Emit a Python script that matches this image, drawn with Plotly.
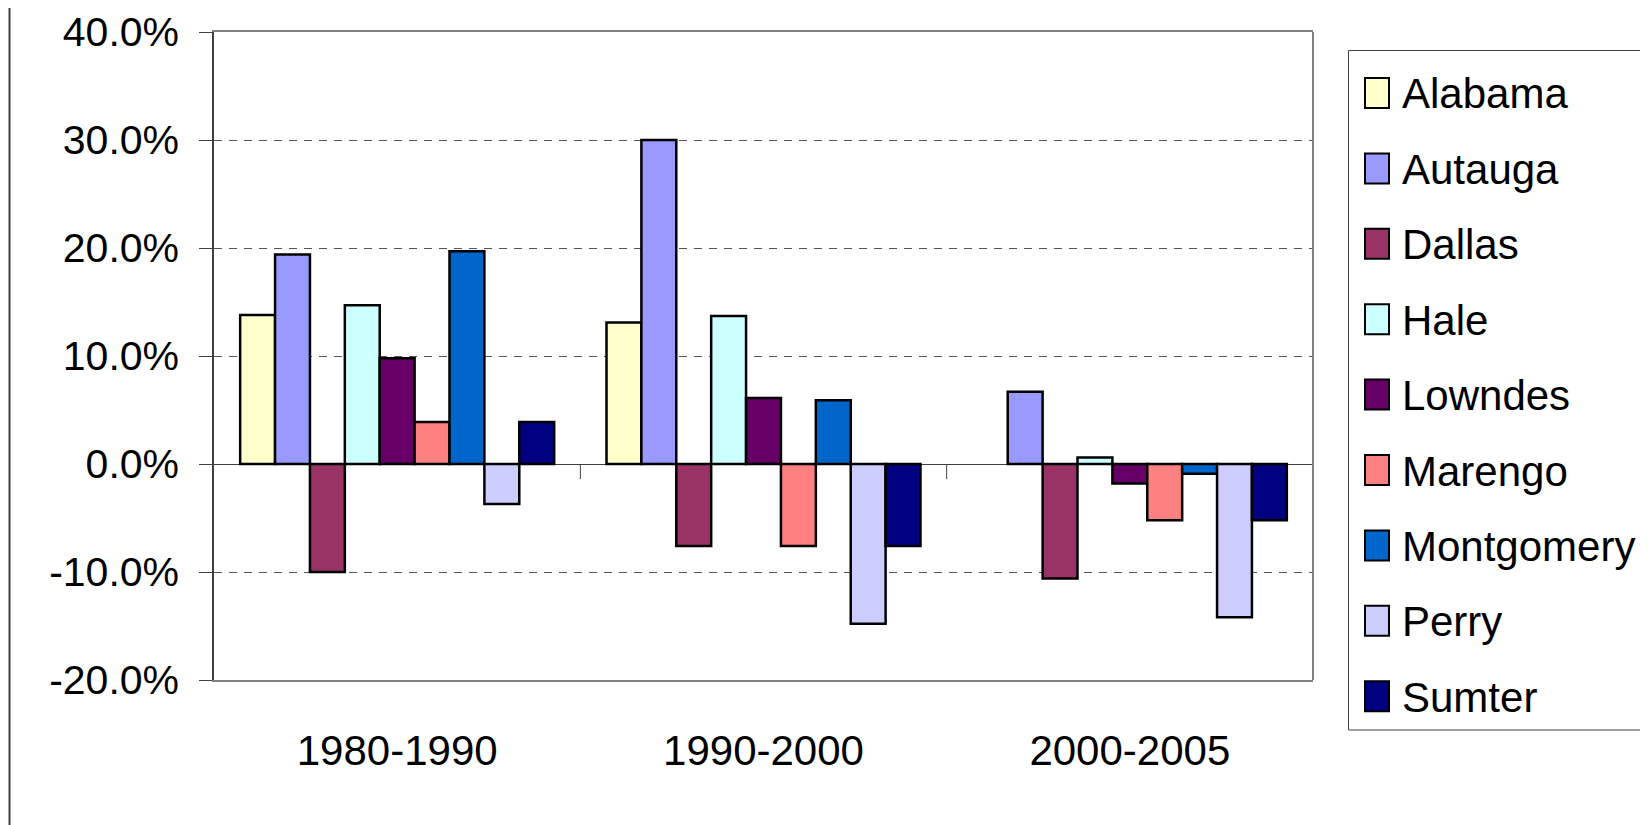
import plotly.graph_objects as go

periods = ["1980-1990", "1990-2000", "2000-2005"]
counties = ["Alabama", "Autauga", "Dallas", "Hale", "Lowndes",
            "Marengo", "Montgomery", "Perry", "Sumter"]
colors = ["#FFFFCC", "#9999FF", "#993366", "#CCFFFF", "#660066",
          "#FF8080", "#0066CC", "#CCCCFF", "#000080"]

alabama = [13.8, 13.1, None]
autauga = [19.4, 30.0, 6.7]
dallas = [-10.0, -7.6, -10.6]
hale = [14.7, 13.7, 0.6]
lowndes = [9.8, 6.1, -1.8]
marengo = [3.9, -7.6, -5.2]
montgomery = [19.7, 5.9, -0.9]
perry = [-3.7, -14.8, -14.2]
sumter = [3.9, -7.6, -5.2]
series = [alabama, autauga, dallas, hale, lowndes, marengo, montgomery, perry, sumter]

y_ticks = [-20, -10, 0, 10, 20, 30, 40]
y_tick_text = ["-20.0%", "-10.0%", "0.0%", "10.0%", "20.0%", "30.0%", "40.0%"]

FONT = "Liberation Sans, Arial, sans-serif"
OFF = 8  # page body margin offset
W, H = 1648 - OFF, 825 - OFF
L, R, T, B = 214 - OFF, 1313 - OFF, 32 - OFF, 680 - OFF

def px(xp):
    return (xp - OFF - L) / (R - L)

def py(yp):
    return (B - (yp - OFF)) / (B - T)

fig = go.Figure()
for name, vals, col in zip(counties, series, colors):
    fig.add_trace(go.Bar(
        x=periods, y=vals, name=name,
        marker=dict(color=col, line=dict(color="black", width=2.5)),
        showlegend=False,
    ))

shapes = []
# category boundary tick marks below zero line
for xb in [0.5, 1.5, 2.5]:
    shapes.append(dict(type="line", xref="x", yref="y", x0=xb, x1=xb, y0=0, y1=-1.4,
                       line=dict(color="#404040", width=1)))
# right border of plot
shapes.append(dict(type="line", xref="paper", yref="paper", x0=1, x1=1, y0=0, y1=1,
                   line=dict(color="#808080", width=2)))
# left page border line
shapes.append(dict(type="line", xref="paper", yref="paper", x0=px(9.5), x1=px(9.5),
                   y0=py(0), y1=py(840), line=dict(color="#404040", width=2)))

# legend box
lx0, lx1, ly0, ly1 = 1348.5, 1646.5, 50.5, 730
shapes.append(dict(type="rect", xref="paper", yref="paper",
                   x0=px(lx0), x1=px(lx1), y0=py(ly1), y1=py(ly0),
                   line=dict(color="#404040", width=1), fillcolor="white", layer="below"))
annotations = []
for i, (name, col) in enumerate(zip(counties, colors)):
    cy = 93 + i * 75.4
    shapes.append(dict(type="rect", xref="paper", yref="paper",
                       x0=px(1365), x1=px(1389), y0=py(cy + 15), y1=py(cy - 15),
                       line=dict(color="black", width=2), fillcolor=col))
    annotations.append(dict(xref="paper", yref="paper", x=px(1400), y=py(cy + 1),
                            text=name, showarrow=False, xanchor="left", yanchor="middle",
                            font=dict(family=FONT, size=42, color="black")))

fig.update_layout(
    width=W, height=H,
    margin=dict(l=L, r=W - R, t=T, b=H - B, pad=0, autoexpand=False),
    paper_bgcolor="white", plot_bgcolor="white",
    barmode="group", bargap=1.5 / 10.5, bargroupgap=0,
    font=dict(family=FONT, size=42, color="black"),
    shapes=shapes, annotations=annotations,
    showlegend=False,
    xaxis=dict(
        automargin=False,
        showgrid=False, showline=True, mirror=True, linecolor="#808080", linewidth=2,
        ticks="", tickfont=dict(size=42), ticklabelstandoff=33,
        range=[-0.5, 2.5],
    ),
    yaxis=dict(
        automargin=False,
        range=[-20, 40], tickmode="array", tickvals=y_ticks, ticktext=y_tick_text,
        showgrid=True, gridcolor="#555555", gridwidth=1, griddash="8px,7px",
        zeroline=True, zerolinecolor="#404040", zerolinewidth=1,
        showline=True, linecolor="#404040", linewidth=1.5,
        ticks="outside", ticklen=13, tickcolor="#404040", tickwidth=1,
        tickfont=dict(size=41), ticklabelstandoff=12,
    ),
)

fig.write_html("out.html")
